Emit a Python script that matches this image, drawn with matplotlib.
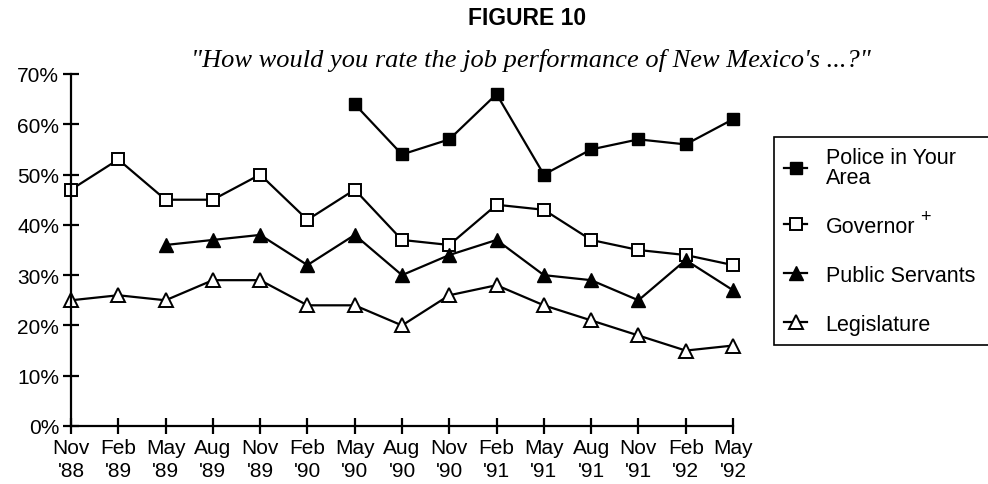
import matplotlib
matplotlib.use("Agg")
import matplotlib.pyplot as plt
import numpy as np

# ---------------------------------------------------------------------------
# Data (percent rating job performance as excellent/good)
# ---------------------------------------------------------------------------
periods = ["Nov\n'88", "Feb\n'89", "May\n'89", "Aug\n'89", "Nov\n'89",
           "Feb\n'90", "May\n'90", "Aug\n'90", "Nov\n'90", "Feb\n'91",
           "May\n'91", "Aug\n'91", "Nov\n'91", "Feb\n'92", "May\n'92"]

police   = [None, None, None, None, None, None, 64, 54, 57, 66, 50, 55, 57, 56, 61]
governor = [47, 53, 45, 45, 50, 41, 47, 37, 36, 44, 43, 37, 35, 34, 32]
servants = [None, None, 36, 37, 38, 32, 38, 30, 34, 37, 30, 29, 25, 33, 27]
legisl   = [25, 26, 25, 29, 29, 24, 24, 20, 26, 28, 24, 21, 18, 15, 16]

y_ticks = [0, 10, 20, 30, 40, 50, 60, 70]

plt.rcParams.update({
    "font.family": ["Liberation Sans", "DejaVu Sans"],
})


def series(vals):
    return np.array([np.nan if v is None else v for v in vals], dtype=float)


fig = plt.figure(figsize=(9.88, 4.85), dpi=100)
ax = fig.add_axes([71 / 988, 58 / 485, (733 - 71) / 988, (427 - 75) / 485])

x = np.arange(len(periods))
lw = 1.6
ms = 8
ax.plot(x, series(police), color="black", lw=lw, marker="s", ms=ms,
        mfc="black", mec="black", label="Police in Your\nArea", clip_on=False)
ax.plot(x, series(governor), color="black", lw=lw, marker="s", ms=ms,
        mfc="white", mec="black", mew=1.4, label="Governor", clip_on=False)
ax.plot(x, series(servants), color="black", lw=lw, marker="^", ms=ms + 1.5,
        mfc="black", mec="black", label="Public Servants", clip_on=False)
ax.plot(x, series(legisl), color="black", lw=lw, marker="^", ms=ms + 1.5,
        mfc="white", mec="black", mew=1.4, label="Legislature", clip_on=False)

ax.set_xlim(0, len(periods) - 1)
ax.set_ylim(0, 70)
ax.set_xticks(x)
ax.set_xticklabels(periods, fontsize=15, linespacing=1.25)
ax.set_yticks(y_ticks)
ax.set_yticklabels([f"{v}%" for v in y_ticks], fontsize=15)

for side in ("top", "right"):
    ax.spines[side].set_visible(False)
for side in ("left", "bottom"):
    ax.spines[side].set_linewidth(1.6)
ax.tick_params(axis="both", direction="inout", length=11, width=1.6, colors="black")
ax.tick_params(axis="x", pad=3.5)
ax.tick_params(axis="y", pad=3)

fig.text(0.533, 0.962, "FIGURE 10", ha="center", va="center",
         fontsize=16.5, fontweight="bold")
fig.text(0.537, 0.875, "\"How would you rate the job performance of New Mexico's ...?\"",
         ha="center", va="center", fontsize=19, style="italic",
         family="Liberation Serif")

leg = fig.legend(loc="upper left", bbox_to_anchor=(774 / 988, 0, 0.3, 1 - 138 / 485),
                 bbox_transform=fig.transFigure, mode="expand", fontsize=15.5,
                 frameon=True, fancybox=False, edgecolor="black", framealpha=1,
                 handlelength=1.1, handletextpad=0.85, labelspacing=1.3,
                 borderpad=0.45, borderaxespad=0)
leg.get_frame().set_linewidth(1.2)
for t in leg.get_texts():
    t.set_linespacing(0.95)

# superscript "+" after Governor, placed from the drawn legend text
fig.canvas.draw()
bb = leg.get_texts()[1].get_window_extent()
W, H = fig.bbox.width, fig.bbox.height
fig.text((bb.x1 + 10) / W, (bb.y0 + bb.height / 2 + 10) / H, "+",
         ha="center", va="center", fontsize=13, zorder=10)

fig.savefig("out.png", dpi=100)
